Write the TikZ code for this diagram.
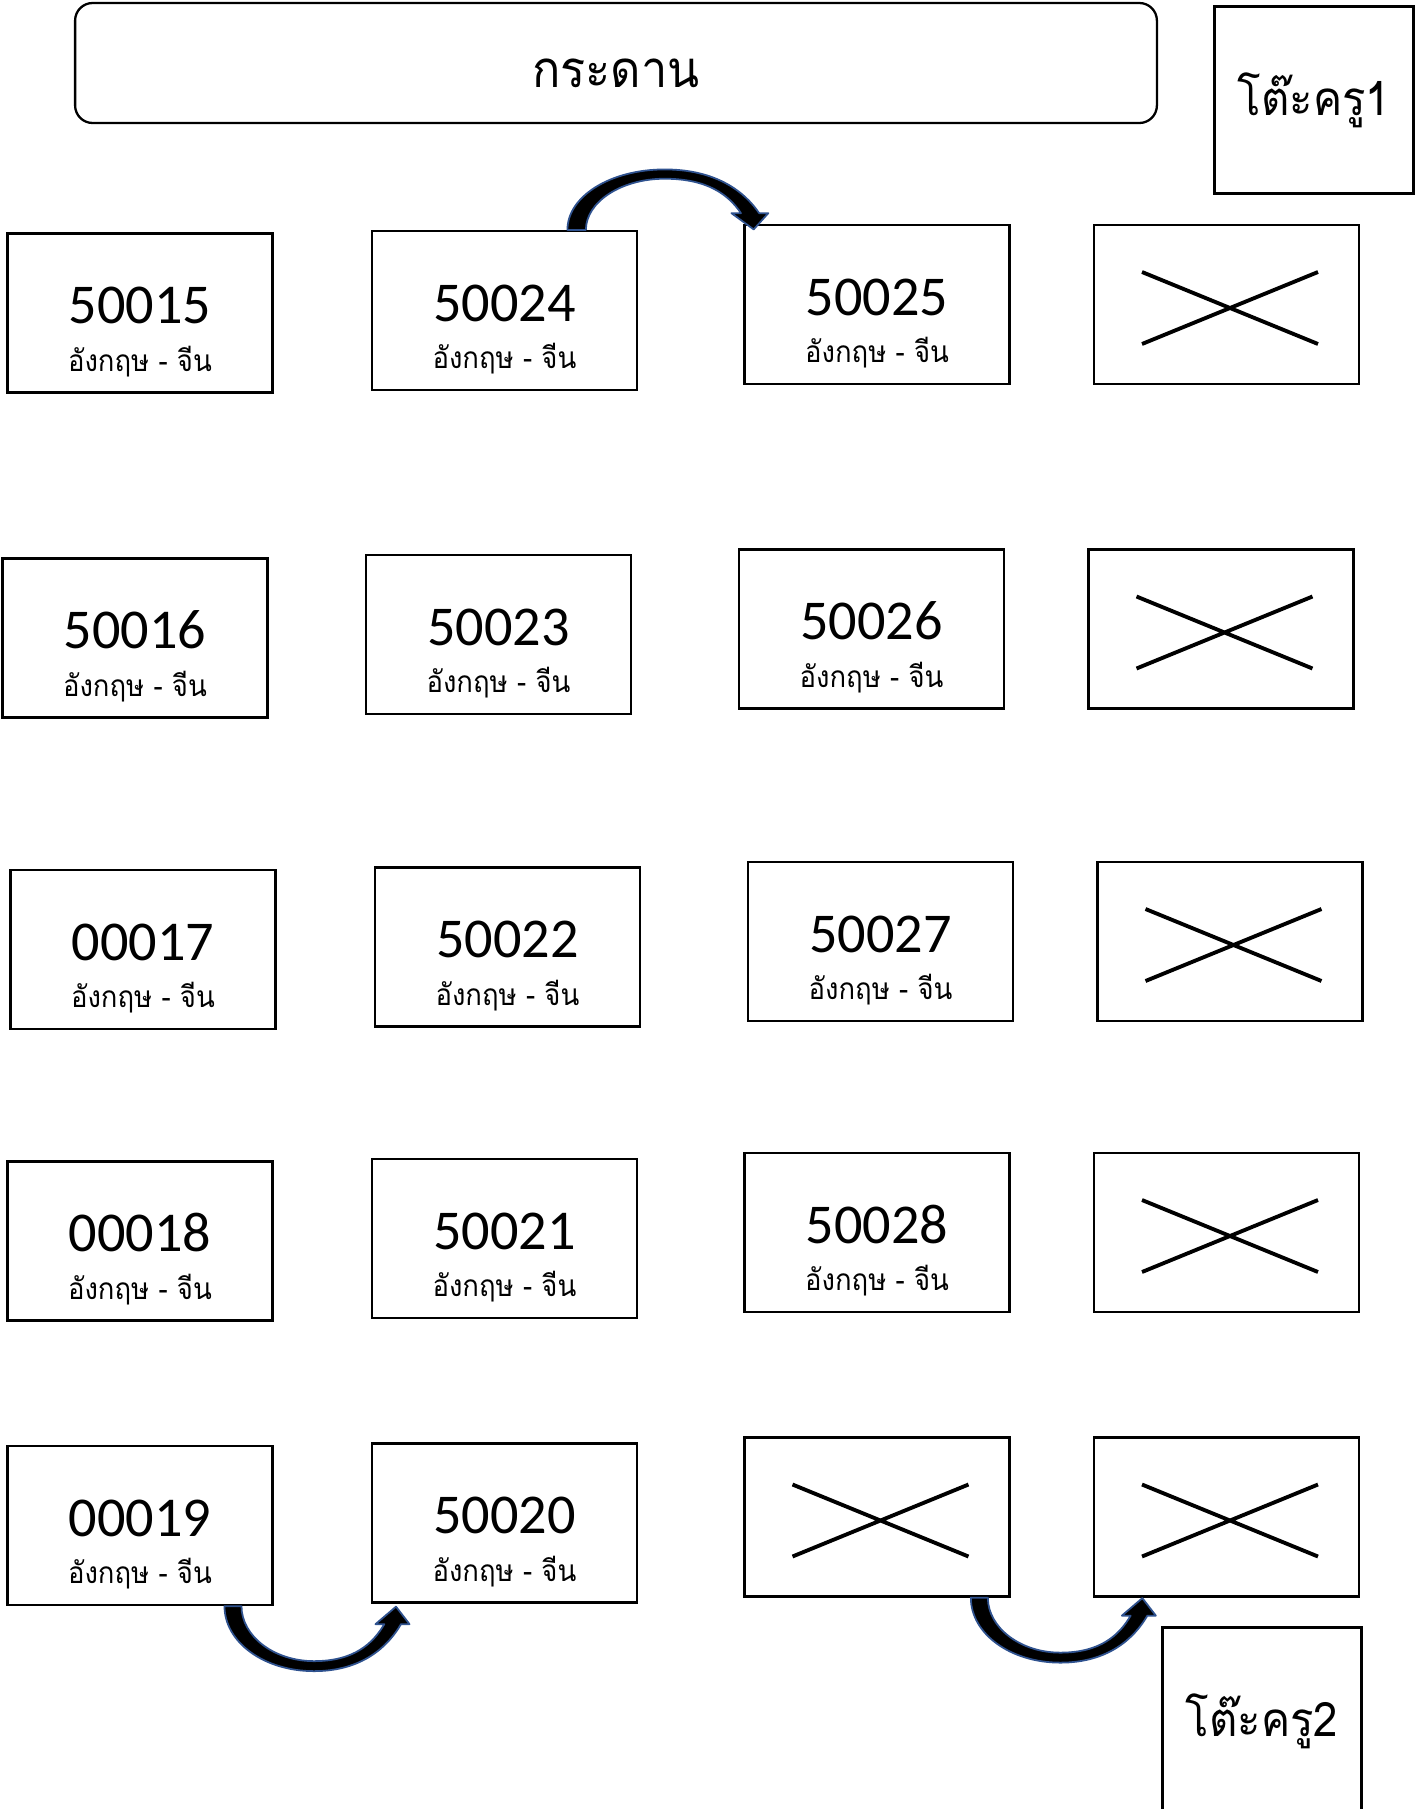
\documentclass[tikz,border=0pt]{standalone}
\usepackage{fontspec}
\setmainfont{Carlito}
\newfontfamily\thaifont[Script=Thai, FakeStretch=0.92]{Loma}
\usepackage{tikz}
\usetikzlibrary{arrows.meta,positioning,calc}
\definecolor{hopblue}{RGB}{47,82,143}
\tikzset{
  seat/.style={draw, line width=1.3pt, minimum width=5.3cm, minimum height=3.18cm,
               align=center, inner sep=0pt, text height=66.4pt, text depth=0pt,
               font=\fontsize{32}{27}\selectfont},
  noseat/.style={seat, path picture={
      \draw[line width=2.2pt]
        ($(path picture bounding box.north west)+(0.96cm,-0.94cm)$) --
        ($(path picture bounding box.south east)+(-0.82cm,0.8cm)$)
        ($(path picture bounding box.south west)+(0.96cm,0.8cm)$) --
        ($(path picture bounding box.north east)+(-0.82cm,-0.94cm)$);}},
  board/.style={draw, line width=1.3pt, rounded corners=0.35cm, minimum width=21.64cm,
                minimum height=2.4cm, text height=27.6pt, text depth=0pt,
                font=\thaifont\fontsize{29}{29}\selectfont},
  desk/.style={draw, line width=1.3pt, minimum width=3.98cm, minimum height=3.74cm,
               font=\thaifont\fontsize{27}{27}\selectfont},
  hopshape/.style={draw=hopblue, fill=black, line width=1pt, line join=round},
}
\newcommand{\seatno}[1]{#1\\{\thaifont\fontsize{17}{17}\selectfont อังกฤษ - จีน}}
% curved move arrow, drawn from its tail (#1) in pixel units
\newcommand{\hoparrow}[2]{%
  \filldraw[hopshape, shift={#1}, #2]
    (-8.5,0) .. controls (-8.5,36) and (31,65) .. (81,65)
    .. controls (129,65) and (155,40.5) .. (168,18)
    -- (176.5,18) -- (163,0.5) -- (142.5,18) -- (151.3,18)
    .. controls (140,37.4) and (121,55) .. (81,55)
    .. controls (41,55) and (8.5,30) .. (8.5,0) -- cycle;}

\begin{document}
\begin{tikzpicture}[x=0.02cm, y=-0.02cm]
  \clip (0,0) rectangle (1424,1809);
  \fill[white] (0,0) rectangle (1424,1809);
  % front of the room
  \node[board] (board) at (616,63) {กระดาน};
  \node[desk] (desk1) at (1314,100) {โต๊ะครู1};
  % row 1
  \node[seat] (s15) at (140,313) {\seatno{50015}};
  \node[seat] (s24) at (504.5,310.5) {\seatno{50024}};
  \node[seat] (s25) at (877,304.5) {\seatno{50025}};
  \node[noseat] (x1) at (1226.5,304.5) {};
  % row 2
  \node[seat] (s16) at (135,638) {\seatno{50016}};
  \node[seat] (s23) at (498.5,634.5) {\seatno{50023}};
  \node[seat] (s26) at (871.5,629) {\seatno{50026}};
  \node[noseat] (x2) at (1221,629) {};
  % row 3
  \node[seat] (s17) at (143,949.5) {\seatno{00017}};
  \node[seat] (s22) at (507.5,947) {\seatno{50022}};
  \node[seat] (s27) at (880.5,941.5) {\seatno{50027}};
  \node[noseat] (x3) at (1230,941.5) {};
  % row 4
  \node[seat] (s18) at (140,1241) {\seatno{00018}};
  \node[seat] (s21) at (504.5,1238.5) {\seatno{50021}};
  \node[seat] (s28) at (877,1232.5) {\seatno{50028}};
  \node[noseat] (x4) at (1226.5,1232.5) {};
  % row 5
  \node[seat] (s19) at (140,1525.5) {\seatno{00019}};
  \node[seat] (s20) at (504.5,1523) {\seatno{50020}};
  \node[noseat] (x5) at (877,1517) {};
  \node[noseat] (x6) at (1226.5,1517) {};
  \node[desk] (desk2) at (1262,1721) {โต๊ะครู2};
  % moves
  \hoparrow{($(s24.north west)!0.77!(s24.north east)$)}{xscale=1.086, yscale=-0.93}
  \hoparrow{($(s19.south west)!0.848!(s19.south east)$)}{}
  \hoparrow{($(x5.south west)!0.883!(x5.south east)$)}{}
\end{tikzpicture}
\end{document}
